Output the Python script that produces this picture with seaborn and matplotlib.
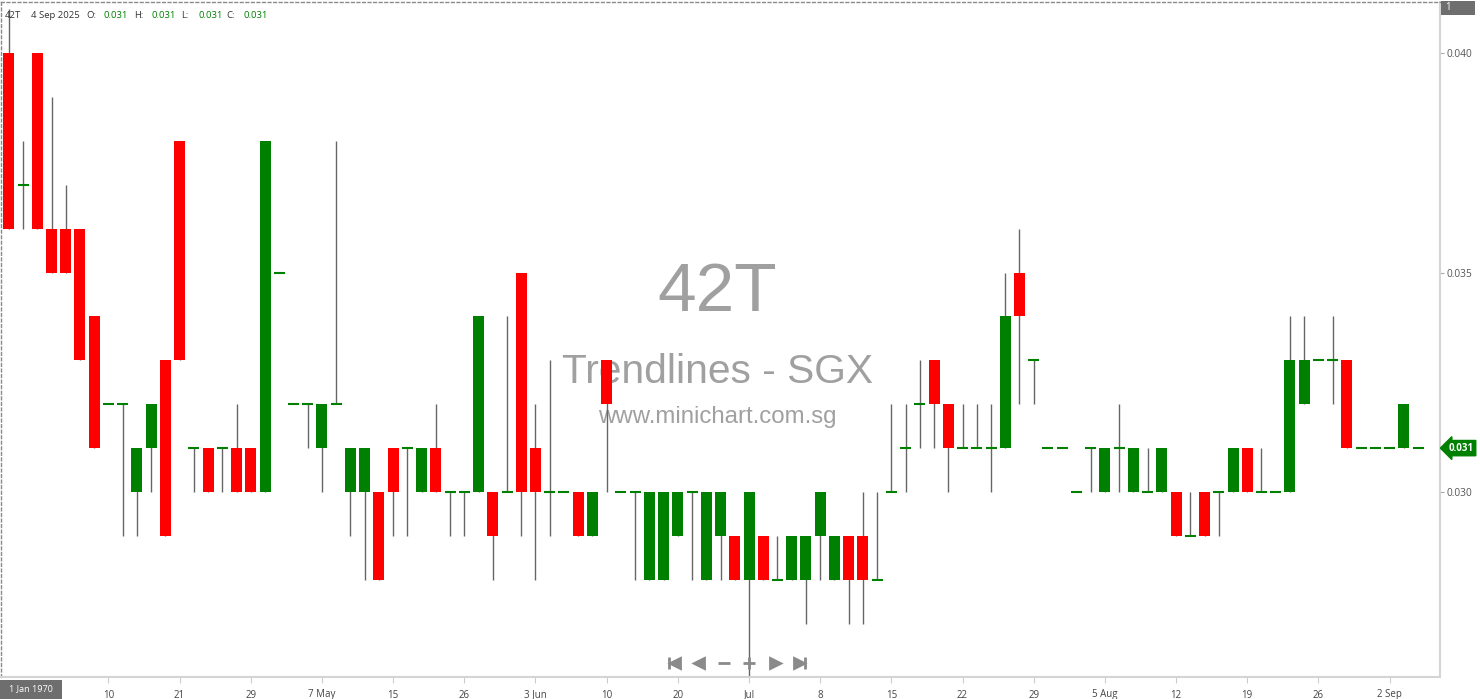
"""Daily candlestick chart for 42T (SGX), minichart style."""

import matplotlib

matplotlib.use("Agg")

import matplotlib.pyplot as plt
from matplotlib.lines import Line2D
from matplotlib.patches import Rectangle
from matplotlib.transforms import blended_transform_factory
import numpy as np
import seaborn as sns


W, H = 1480, 699
_DPI = 100

UP = "#008000"
DOWN = "#ff0000"
WICK = "#666666"
MARK = "#a0a0a0"

# one candle per trading day, oldest first (last = 4 Sep 2025)
opens = [
    0.040, 0.037, 0.040, 0.036, 0.036, 0.036, 0.034, 0.032, 0.032, 0.030,
    0.031, 0.033, 0.038, 0.031, 0.031, 0.031, 0.031, 0.031, 0.030, 0.035,
    0.032, 0.032, 0.031, 0.032, 0.030, 0.030, 0.030, 0.031, 0.031, 0.030,
    0.031, 0.030, 0.030, 0.030, 0.030, 0.030, 0.035, 0.031, 0.030, 0.030,
    0.030, 0.029, 0.033, 0.030, 0.030, 0.028, 0.028, 0.029, 0.030, 0.028,
    0.029, 0.029, 0.028, 0.029, 0.028, 0.028, 0.028, 0.029, 0.028, 0.029,
    0.029, 0.028, 0.030, 0.031, 0.032, 0.033, 0.032, 0.031, 0.031, 0.031,
    0.031, 0.035, 0.033, 0.031, 0.031, 0.030, 0.031, 0.030, 0.031, 0.030,
    0.030, 0.030, 0.030, 0.029, 0.030, 0.030, 0.030, 0.031, 0.030, 0.030,
    0.030, 0.032, 0.033, 0.033, 0.033, 0.031, 0.031, 0.031, 0.031, 0.031,
]
highs = [
    0.041, 0.038, 0.040, 0.039, 0.037, 0.036, 0.034, 0.032, 0.032, 0.031,
    0.032, 0.033, 0.038, 0.031, 0.031, 0.031, 0.032, 0.031, 0.038, 0.035,
    0.032, 0.032, 0.032, 0.038, 0.031, 0.031, 0.030, 0.031, 0.031, 0.031,
    0.032, 0.030, 0.030, 0.034, 0.030, 0.034, 0.035, 0.032, 0.033, 0.030,
    0.030, 0.030, 0.033, 0.030, 0.030, 0.030, 0.030, 0.030, 0.030, 0.030,
    0.030, 0.029, 0.030, 0.029, 0.029, 0.029, 0.029, 0.030, 0.029, 0.029,
    0.030, 0.030, 0.032, 0.032, 0.033, 0.033, 0.032, 0.032, 0.032, 0.032,
    0.035, 0.036, 0.033, 0.031, 0.031, 0.030, 0.031, 0.031, 0.032, 0.031,
    0.031, 0.031, 0.030, 0.030, 0.030, 0.030, 0.031, 0.031, 0.031, 0.030,
    0.034, 0.034, 0.033, 0.034, 0.033, 0.031, 0.031, 0.031, 0.032, 0.031,
]
lows = [
    0.036, 0.036, 0.036, 0.035, 0.035, 0.033, 0.031, 0.032, 0.029, 0.029,
    0.030, 0.029, 0.033, 0.030, 0.030, 0.030, 0.030, 0.030, 0.030, 0.035,
    0.032, 0.031, 0.030, 0.032, 0.029, 0.028, 0.028, 0.029, 0.029, 0.030,
    0.030, 0.029, 0.029, 0.030, 0.028, 0.030, 0.029, 0.028, 0.029, 0.030,
    0.029, 0.029, 0.030, 0.030, 0.028, 0.028, 0.028, 0.029, 0.028, 0.028,
    0.028, 0.028, 0.025, 0.028, 0.028, 0.028, 0.027, 0.028, 0.028, 0.027,
    0.027, 0.028, 0.030, 0.030, 0.031, 0.031, 0.030, 0.031, 0.031, 0.030,
    0.031, 0.032, 0.032, 0.031, 0.031, 0.030, 0.030, 0.030, 0.030, 0.030,
    0.030, 0.030, 0.029, 0.029, 0.029, 0.029, 0.030, 0.030, 0.030, 0.030,
    0.030, 0.032, 0.033, 0.032, 0.031, 0.031, 0.031, 0.031, 0.031, 0.031,
]
closes = [
    0.036, 0.037, 0.036, 0.035, 0.035, 0.033, 0.031, 0.032, 0.032, 0.031,
    0.032, 0.029, 0.033, 0.031, 0.030, 0.031, 0.030, 0.030, 0.038, 0.035,
    0.032, 0.032, 0.032, 0.032, 0.031, 0.031, 0.028, 0.030, 0.031, 0.031,
    0.030, 0.030, 0.030, 0.034, 0.029, 0.030, 0.030, 0.030, 0.030, 0.030,
    0.029, 0.030, 0.032, 0.030, 0.030, 0.030, 0.030, 0.030, 0.030, 0.030,
    0.030, 0.028, 0.030, 0.028, 0.028, 0.029, 0.029, 0.030, 0.029, 0.028,
    0.028, 0.028, 0.030, 0.031, 0.032, 0.032, 0.031, 0.031, 0.031, 0.031,
    0.034, 0.034, 0.033, 0.031, 0.031, 0.030, 0.031, 0.031, 0.031, 0.031,
    0.030, 0.031, 0.029, 0.029, 0.029, 0.030, 0.031, 0.030, 0.030, 0.030,
    0.033, 0.033, 0.033, 0.033, 0.031, 0.031, 0.031, 0.031, 0.032, 0.031,
]

# date labels sit under every 5th candle, starting at the 8th
tick_labels = [
    "10", "21", "29", "7 May", "15", "26", "3 Jun", "10", "20", "Jul",
    "8", "15", "22", "29", "5 Aug", "12", "19", "26", "2 Sep",
]
first_tick = 7
tick_step = 5

y_ticks = [0.030, 0.035, 0.040]
symbol = "42T"
last_date = "4 Sep 2025"


def fx(px):
    return px / W


def fy(py):
    return 1 - py / H


sns.set_theme(style="white")
plt.rcParams["font.family"] = ["Open Sans", "DejaVu Sans"]

o = np.array(opens)
h = np.array(highs)
lo = np.array(lows)
c = np.array(closes)
x = np.arange(len(o))

fig = plt.figure(figsize=(W / _DPI, H / _DPI), dpi=_DPI, facecolor="white")
ax = fig.add_axes([fx(0.5), 22 / H, 1439.5 / W, 675 / H])
ax.set_facecolor("white")

# watermark behind the candles
wm = dict(transform=fig.transFigure, ha="center", va="center", color=MARK,
          family=["Liberation Sans", "DejaVu Sans"], zorder=0)
ax.text(fx(717), fy(293), symbol, fontsize=50, **wm)
ax.text(fx(718), fy(372), "Trendlines - SGX", fontsize=29.3, **wm)
ax.text(fx(717), fy(417), "www.minichart.com.sg", fontsize=17.3, **wm)

width = 0.77
ax.vlines(x, lo, h, color=WICK, lw=1.0, zorder=2)

body = c != o
colors = np.where(c > o, UP, DOWN)
ax.bar(x[body], np.abs(c - o)[body], bottom=np.minimum(o, c)[body],
       width=width, color=colors[body], linewidth=0, zorder=3)
doji = ~body
ax.hlines(c[doji], x[doji] - width / 2, x[doji] + width / 2,
          color=UP, lw=1.5, zorder=3)

ax.set_xlim(-0.583, 100.54)
ax.set_ylim(0.025786, 0.041162)

ticks = np.arange(first_tick, len(o), tick_step)[: len(tick_labels)]
ax.set_xticks(ticks)
ax.set_xticklabels(tick_labels)
ax.yaxis.tick_right()
ax.set_yticks(y_ticks)
ax.set_yticklabels([f"{v:.3f}" for v in y_ticks])
ax.tick_params(axis="x", length=4, width=0.8, color="#cccccc",
               labelsize=7, labelcolor="#444444", pad=5, bottom=True)
ax.tick_params(axis="y", length=3, width=0.8, color="#aaaaaa",
               labelsize=7.3, labelcolor="#555555", pad=2, right=True,
               left=False)
ax.grid(False)

for side in ("bottom", "right"):
    ax.spines[side].set_color("#d4d4d4")
    ax.spines[side].set_linewidth(1.5)
for side in ("top", "left"):
    ax.spines[side].set_color("#8a8a8a")
    ax.spines[side].set_linewidth(1.0)
    ax.spines[side].set_linestyle((0, (2, 2)))

# last price tag on the right axis
tag = blended_transform_factory(ax.transAxes, ax.transData)
ax.text(1.006, c[-1], f"{c[-1]:.3f}", transform=tag, ha="left", va="center",
        fontsize=7, fontweight="bold", color="white", clip_on=False,
        bbox=dict(boxstyle="larrow,pad=0.22", fc=UP, ec=UP))

# header line
fig.text(fx(5), fy(15), symbol, fontsize=6.8, color="#333333", va="center")
fig.text(fx(31), fy(15), last_date, fontsize=6.8, color="#333333", va="center")
for lbl, val, px in [("O:", o[-1], 86), ("H:", h[-1], 134),
                     ("L:", lo[-1], 181), ("C:", c[-1], 226)]:
    fig.text(fx(px), fy(15), lbl, fontsize=6.8, color="#333333", va="center")
    fig.text(fx(px + 18), fy(15), f"{val:.3f}", fontsize=6.8, color=UP,
             va="center")

# small grey boxes in the corners
fig.add_artist(Rectangle((fx(1441), fy(15)), 34 / W, 14 / H,
                         transform=fig.transFigure, fc="#6e6e6e", ec="none"))
fig.text(fx(1445), fy(8), "1", fontsize=7, color="white", va="center")
fig.add_artist(Rectangle((fx(0), fy(699)), 62 / W, 19 / H,
                         transform=fig.transFigure, fc="#6e6e6e", ec="none"))
fig.text(fx(31), fy(689), "1 Jan 1970", fontsize=6.5, color="white",
         ha="center", va="center")

# navigation buttons
nav_y = fy(663)
for marker, px, ms in [("|", 669, 8), ("<", 675, 7), ("<", 699, 7),
                       ("_", 724, 9), ("+", 749, 9), (">", 775, 7),
                       (">", 799, 7), ("|", 805, 8)]:
    fig.add_artist(Line2D([fx(px)], [nav_y], marker=marker, ms=ms,
                          color="#8a8a8a", mec="#8a8a8a", mew=2,
                          transform=fig.transFigure))

fig.savefig("out.png", dpi=_DPI, facecolor="white")
plt.close(fig)
